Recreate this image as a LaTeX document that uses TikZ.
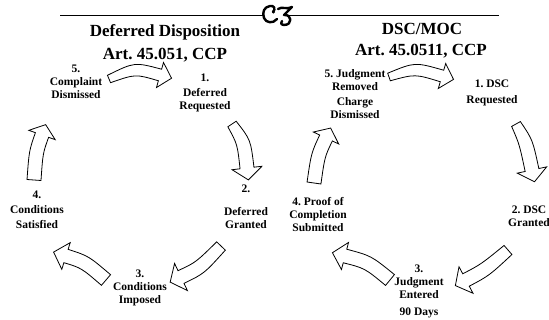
\documentclass[tikz,border=0pt]{standalone}
\usepackage{fontspec}
\setmainfont{Liberation Serif}
\frenchspacing
\usetikzlibrary{calc}
\newcommand\blockarrow[8]{%
  \coordinate (#1s) at #2;
  \coordinate (#1c) at #3;
  \coordinate (#1e) at #4;
  \coordinate (#1n) at ($(#1s)!#6!90:(#1e)$);
  \draw[barrow] ($(#1s)!#5!90:(#1c)$) .. controls ($(#1c)+(#1n)-(#1s)$) .. ($(#1e)!#6!-90:(#1c)$)
     -- ($(#1e)!#7!-90:(#1c)$) -- ($(#1e)!-#8!(#1c)$) -- ($(#1e)!#7!90:(#1c)$)
     -- ($(#1e)!#6!90:(#1c)$) .. controls ($(#1c)-(#1n)+(#1s)$) .. ($(#1s)!#5!-90:(#1c)$) -- cycle;
}
\begin{document}
\begin{tikzpicture}[x=1pt,y=-1pt,
  barrow/.style={draw=black, fill=white, line width=0.8pt, line join=miter},
  lab/.style={font=\bfseries\fontsize{11.5}{13}\selectfont, align=center, inner sep=0pt},
  ttl/.style={font=\bfseries\fontsize{17}{19}\selectfont, inner sep=0pt, anchor=base},
  orn/.style={line width=2.4pt, line cap=round, line join=round}]
\useasboundingbox (0,0) rectangle (549,320);

% rule with ornament
\coordinate (rl1) at (60,15);
\coordinate (rl2) at (263,15);
\coordinate (rr1) at (289,15);
\coordinate (rr2) at (499,15);
\draw[line width=0.8pt] (rl1) -- (rl2);
\draw[line width=0.8pt] (rr1) -- (rr2);
\draw[orn] (273,12) .. controls (276,9) and (274,5) .. (270,6) .. controls (264,7) and (262,12) .. (264,18) .. controls (266,23) and (273,24) .. (277,19);
\fill (273.5,12) circle (1.6pt);
\draw[orn] (278,9) .. controls (282,6) and (287,10) .. (292,7) -- (284,15)
   .. controls (292,14) and (293,25) .. (284,25) .. controls (281,25) and (280,22) .. (282,21);

% left cycle arrows
\blockarrow{la}{(109,79)}{(135,68)}{(160,75)}{4pt}{6pt}{13pt}{12pt}
\blockarrow{lb}{(232,124)}{(244,142)}{(247,168)}{5pt}{7pt}{15pt}{12pt}
\blockarrow{lc}{(221,246)}{(200,268)}{(181,277)}{6pt}{7pt}{15pt}{12pt}
\blockarrow{ld}{(106,280)}{(85,262)}{(66,256)}{7pt}{7pt}{14pt}{13pt}
\blockarrow{le}{(34,180)}{(36,152)}{(42,135)}{7pt}{7pt}{14pt}{11pt}

% right cycle arrows
\blockarrow{ra}{(389,77)}{(415,68)}{(442,76)}{4pt}{6pt}{13pt}{12pt}
\blockarrow{rb}{(516,124)}{(526,142)}{(532,170)}{5pt}{7pt}{15pt}{12pt}
\blockarrow{rc}{(508,250)}{(485,270)}{(466,280)}{6pt}{7pt}{15pt}{12pt}
\blockarrow{rd}{(390,280)}{(368,262)}{(345,256)}{7pt}{7pt}{14pt}{13pt}
\blockarrow{re}{(314,183)}{(318,155)}{(326,138)}{7pt}{7pt}{14pt}{11pt}

% titles
\node[ttl] (t1) at (165,37) {Deferred Disposition};
\node[ttl] (t2) at (165,60) {Art. 45.051, CCP};
\node[ttl] (t3) at (422,35) {DSC/MOC};
\node[ttl] (t4) at (421,56) {Art. 45.0511, CCP};

% left labels
\node[lab] (l5) at (76,82) {5.\\Complaint\\Dismissed};
\node[lab] (l1) at (205,93) {1.\\[2pt]Deferred\\Requested};
\node[lab] (l2) at (246,207) {2.\\[10pt]Deferred\\Granted};
\node[lab] (l3) at (140,288) {3.\\Conditions\\Imposed};
\node[lab] (l4) at (37,210) {4.\\[2pt]Conditions\\[2pt]Satisfied};

% right labels
\node[lab] (r5) at (355,94) {5. Judgment\\Removed\\[2pt]Charge\\Dismissed};
\node[lab] (r1) at (492,93) {1. DSC\\[3pt]Requested};
\node[lab] (r2) at (529,216) {2. DSC\\Granted};
\node[lab] (r4) at (318,215) {4. Proof of\\Completion\\Submitted};
\node[lab] (r3) at (419,291) {3.\\Judgment\\Entered\\[4pt]90 Days};
\end{tikzpicture}
\end{document}
